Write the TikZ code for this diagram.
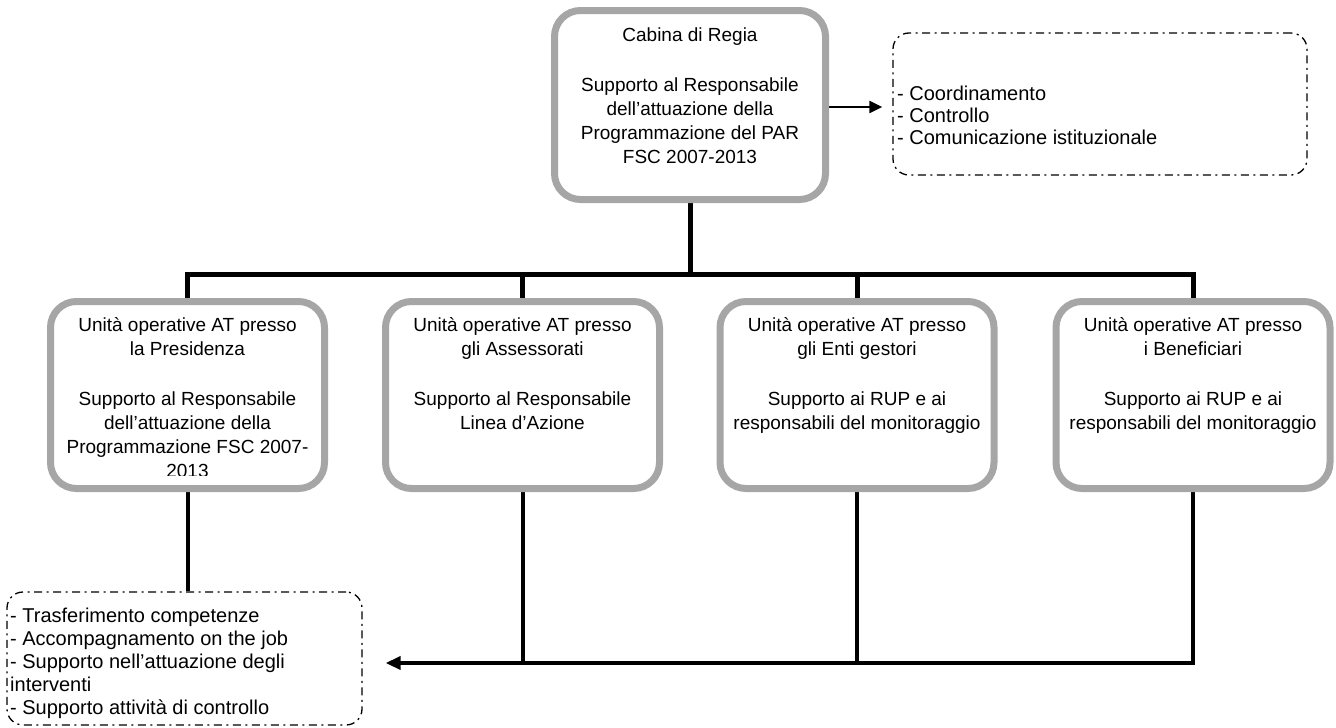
\documentclass[tikz,border=0pt]{standalone}
\usepackage{fontspec}
\setmainfont{Liberation Sans}
\usetikzlibrary{arrows.meta,backgrounds}
\definecolor{boxgray}{HTML}{A6A6A6}
\begin{document}
\begin{tikzpicture}[x=1pt,y=-1pt,
  graybox/.style={draw=boxgray, line width=7pt, rounded corners=26pt, fill=white,
    minimum width=274pt, minimum height=187pt, inner sep=0pt},
  boxtext/.style={anchor=north, align=center, inner sep=0pt, font=\fontsize{19}{24}\selectfont},
  dashbox/.style={draw=black, line width=1.3pt, dash pattern=on 8pt off 4.5pt on 2pt off 4.5pt,
    rounded corners=16pt, inner sep=0pt},
  listtext/.style={anchor=north west, align=left, inner sep=0pt},
  thickconn/.style={draw=black, line width=5pt, line join=miter},
  lowconn/.style={draw=black, line width=4pt, line join=miter},
  thinarrow/.style={draw=black, line width=2.2pt, -{Triangle[length=13pt,width=12pt]}}
]
\useasboundingbox (0,0) rectangle (1336,728);

% gray boxes
\node[graybox, minimum width=271pt, minimum height=189pt] (top) at (690,105) {};
\node[graybox] (b1) at (187.5,395) {};
\node[graybox] (b2) at (522.5,395) {};
\node[graybox] (b3) at (857,395) {};
\node[graybox] (b4) at (1193,395) {};

% texts of gray boxes
\node[boxtext] (ttop) at (690,27.5) {\rule{0pt}{14pt}Cabina di Regia\\[26pt]Supporto al Responsabile\\dell’attuazione della\\Programmazione del PAR\\FSC 2007-2013};
\begin{scope}
  \clip (40,300) rectangle (335,475);
  \node[boxtext] (t1) at (187.5,317.5) {\rule{0pt}{14pt}Unità operative AT presso\\la Presidenza\\[26pt]Supporto al Responsabile\\dell’attuazione della\\Programmazione FSC 2007-\\2013};
\end{scope}
\node[boxtext] (t2) at (522.5,317.5) {\rule{0pt}{14pt}Unità operative AT presso\\gli Assessorati\\[26pt]Supporto al Responsabile\\Linea d’Azione};
\node[boxtext] (t3) at (857,317.5) {\rule{0pt}{14pt}Unità operative AT presso\\gli Enti gestori\\[26pt]Supporto ai RUP e ai\\responsabili del monitoraggio};
\node[boxtext] (t4) at (1193,317.5) {\rule{0pt}{14pt}Unità operative AT presso\\i Beneficiari\\[26pt]Supporto ai RUP e ai\\responsabili del monitoraggio};

% dashed boxes
\node[dashbox, minimum width=414pt, minimum height=142pt] (ctrl) at (1100,104) {};
\node[listtext, font=\fontsize{20}{22}\selectfont] (tctrl) at (897,84.8)
  {\rule{0pt}{15pt}- Coordinamento\\- Controllo\\- Comunicazione istituzionale};
\node[dashbox, minimum width=355pt, minimum height=133pt] (act) at (184.5,658.5) {};
\node[listtext, font=\fontsize{20}{23}\selectfont] (tact) at (10,606.8)
  {\rule{0pt}{15pt}- Trasferimento competenze\\- Accompagnamento on the job\\- Supporto nell’attuazione degli\\interventi\\- Supporto attività di controllo};

\coordinate (hl) at (0,274);
\coordinate (hl2) at (0,663);

\begin{pgfonlayer}{background}
  \draw[thickconn] (top.south) -- (top.south |- hl);
  \draw[thickconn] (b1.north) -- (b1.north |- hl) -- (b4.north |- hl) -- (b4.north);
  \draw[thickconn] (b2.north) -- (b2.north |- hl);
  \draw[thickconn] (b3.north) -- (b3.north |- hl);
  \draw[thinarrow, shorten >=10pt] (top.east |- 0,107) -- (ctrl.west |- 0,107);
  \draw[lowconn] (b1.south) -- (b1.south |- act.north);
  \draw[lowconn, shorten >=23pt, -{Triangle[length=15pt,width=13pt]}]
    (b4.south) -- (b4.south |- hl2) -- (hl2 -| act.east);
  \draw[lowconn] (b2.south) -- (b2.south |- hl2);
  \draw[lowconn] (b3.south) -- (b3.south |- hl2);
\end{pgfonlayer}
\end{tikzpicture}
\end{document}
